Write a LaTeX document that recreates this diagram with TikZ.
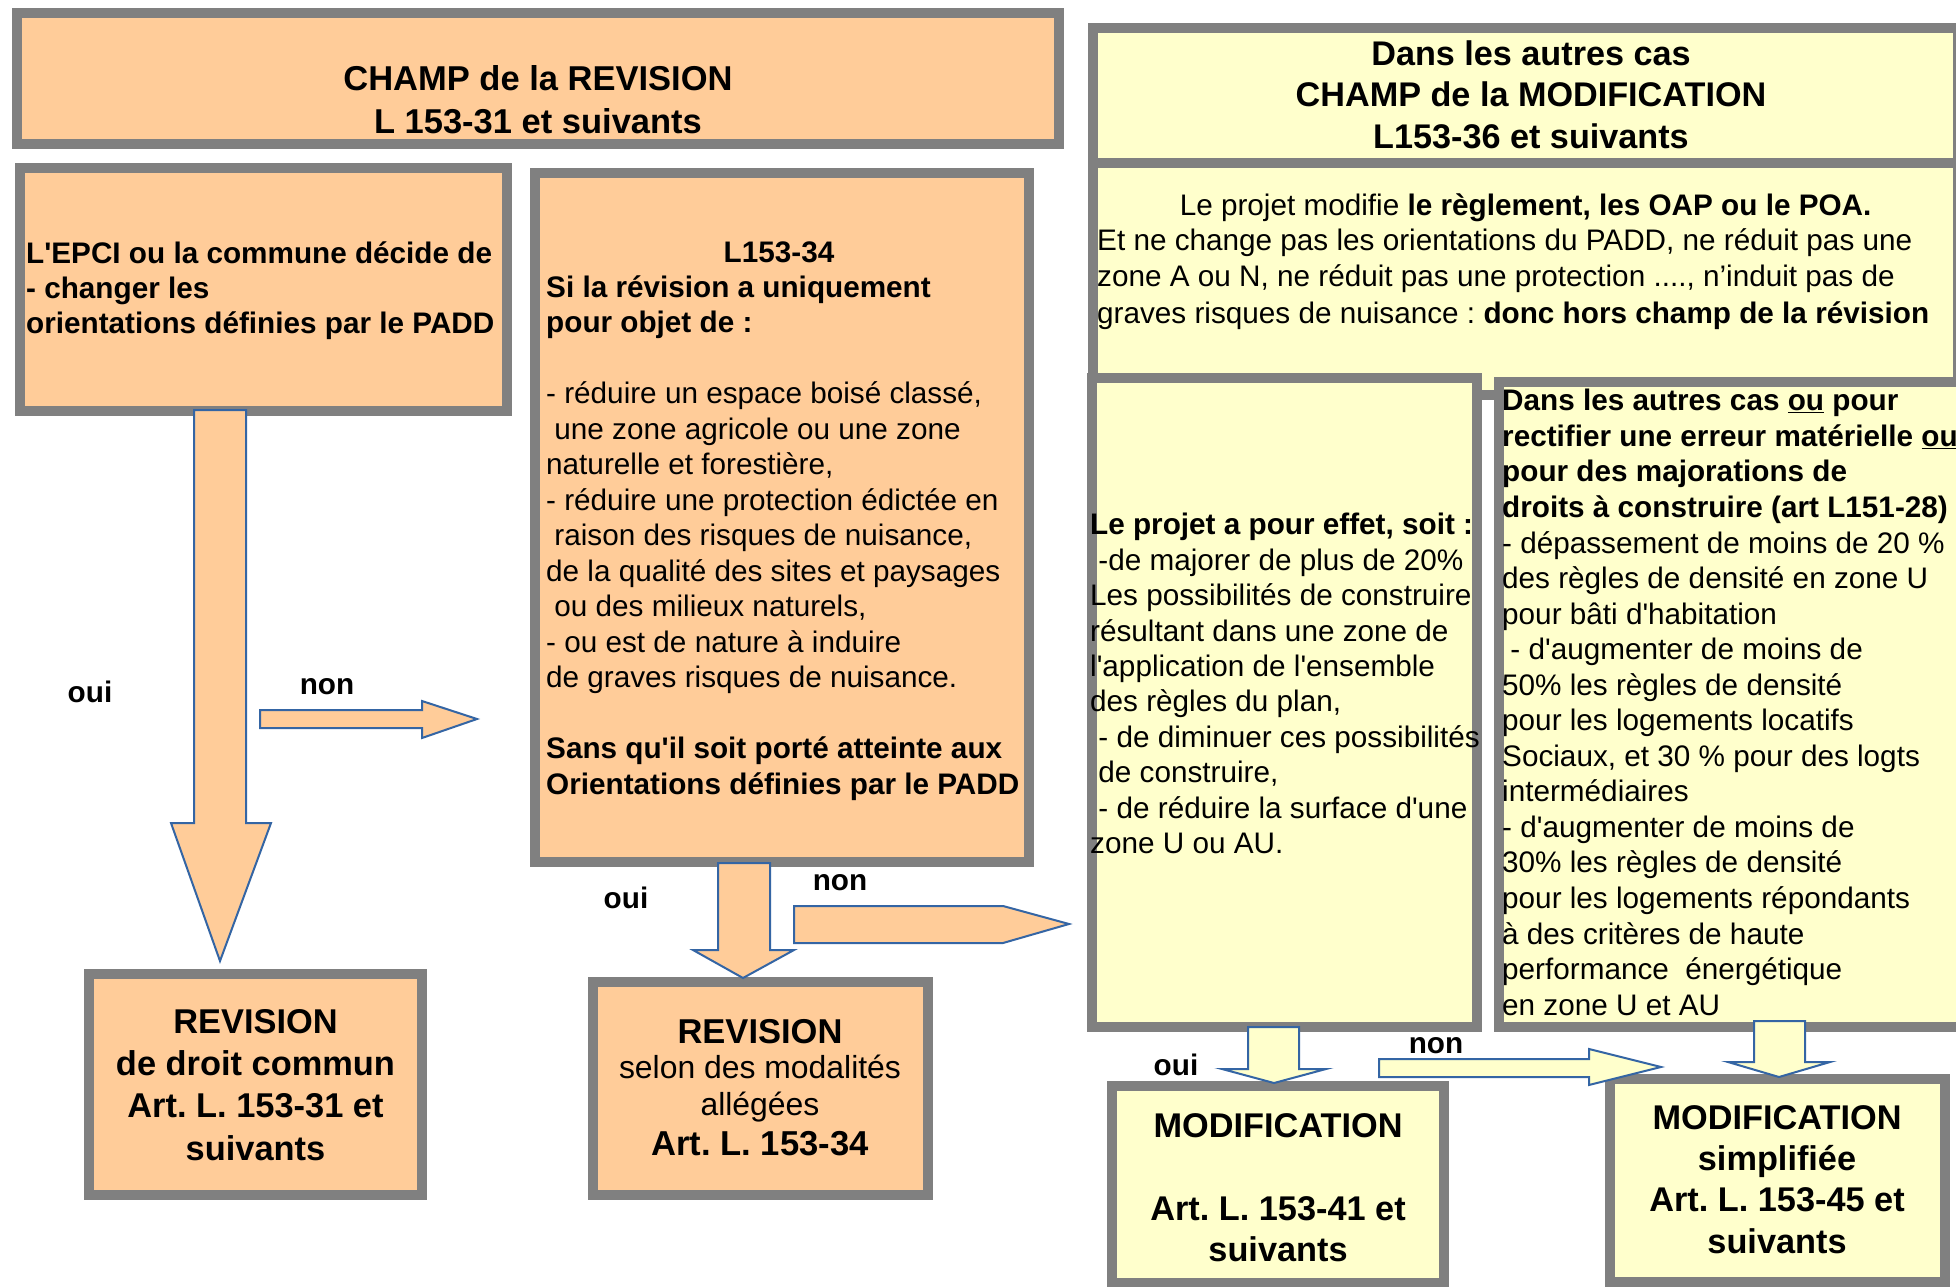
\documentclass[tikz,border=0pt]{standalone}
\usepackage{fontspec}
\newfontfamily\lib{Liberation Sans}
\usetikzlibrary{fit}
\definecolor{orfill}{HTML}{FFCC99}
\definecolor{yefill}{HTML}{FFFFCC}
\definecolor{bord}{HTML}{808080}
\definecolor{arblue}{HTML}{3465A4}
\newcommand\fs[2]{\fontsize{#1}{#2}\selectfont}
\newcommand\st{\rule{0pt}{0.95em}}
\frenchspacing
\begin{document}
\frenchspacing
\begin{tikzpicture}[x=1pt,y=-1pt,
  obox/.style={draw=bord, line width=9.5pt, fill=orfill, inner sep=0pt, outer sep=0pt},
  ybox/.style={obox, fill=yefill},
  oarrow/.style={draw=arblue, line width=2pt, fill=orfill, line join=miter},
  yarrow/.style={oarrow, fill=yefill},
  body/.style={inner sep=0pt, align=left, font=\lib\frenchspacing\fs{29.7}{35.5}},
  title/.style={inner sep=0pt, align=center, font=\lib\frenchspacing\bfseries\fs{34.4}{42.3}},
  lab/.style={inner sep=0pt, font=\lib\bfseries\fs{29.7}{35.5}}
]
\useasboundingbox (0,0) rectangle (1956,1287);
\fill[white] (0,0) rectangle (1956,1287);

% boxes
\node[obox, fit={(17,13) (1059,144)}] (A) {};
\node[obox, fit={(20,168) (507,411)}] (B) {};
\node[obox, fit={(535,173) (1029,862)}] (C) {};
\node[ybox, fit={(1093,163) (1958,395)}] (E) {};
\node[ybox, fit={(1093,28) (1958,163)}] (D) {};
\node[ybox, fit={(1092,378) (1477,1027)}] (F) {};
\node[ybox, fit={(1499,382) (1990,1027)}] (G) {};
\node[obox, fit={(89,974) (422,1195)}] (H) {};
\node[obox, fit={(593,982) (928,1195)}] (I) {};
\node[ybox, fit={(1112,1086) (1444,1283)}] (J) {};
\node[ybox, fit={(1610,1079) (1945,1282)}] (K) {};

% texts
\node[title, anchor=north, font=\lib\frenchspacing\bfseries\fs{34.5}{43}] (tA) at (538,57.2)
  {\st CHAMP de la REVISION\\L 153-31 et suivants};
\node[title, anchor=north, font=\lib\frenchspacing\bfseries\fs{34.2}{41.5}] (tD) at (1531,32.5)
  {\st Dans les autres cas\\CHAMP de la MODIFICATION\\L153-36 et suivants};
\node[body, anchor=base] (tE1) at (1525.6,215)
  {Le projet modifie \textbf{le règlement, les OAP ou le POA.}};
\node[body, anchor=north west, font=\lib\frenchspacing\fs{29.7}{36.4}] (tE2) at (1097,221.8)
  {\st Et ne change pas les orientations du PADD, ne réduit pas une\\zone A ou N, ne réduit pas une protection ...., n’induit pas de\\graves risques de nuisance : \textbf{donc hors champ de la révision}};
\node[body, anchor=north west, font=\lib\frenchspacing\bfseries\fs{29.7}{35.3}] (tB) at (26,234.8)
  {\st L'EPCI ou la commune décide de\\- changer les\\orientations définies par le PADD};
\node[lab, anchor=base] (tC1) at (779,262) {L153-34};
\node[body, anchor=north west] (tC2) at (546,268.8)
  {\st\textbf{Si la révision a uniquement}\\\textbf{pour objet de :}\\\mbox{}\\- réduire un espace boisé classé,\\\ une zone agricole ou une zone\\naturelle et forestière,\\- réduire une protection édictée en\\\ raison des risques de nuisance,\\de la qualité des sites et paysages\\\ ou des milieux naturels,\\- ou est de nature à induire\\de graves risques de nuisance.\\\mbox{}\\\textbf{Sans qu'il soit porté atteinte aux}\\\textbf{Orientations définies par le PADD}};
\node[body, anchor=north west, font=\lib\frenchspacing\fs{29.7}{35.45}] (tF) at (1090,506.3)
  {\st\textbf{Le projet a pour effet, soit :}\\\ -de majorer de plus de 20\%\\Les possibilités de construire\\résultant dans une zone de\\l'application de l'ensemble\\des règles du plan,\\\ - de diminuer ces possibilités\\\ de construire,\\\ - de réduire la surface d'une\\zone U ou AU.};
\node[body, anchor=north west, font=\lib\frenchspacing\fs{29.7}{35.55}] (tG) at (1502,382.4)
  {\st\textbf{Dans les autres cas \underline{ou} pour}\\\textbf{rectifier une erreur matérielle \underline{ou}}\\\textbf{pour des majorations de}\\\textbf{droits à construire (art L151-28)}\\- dépassement de moins de 20 \%\\des règles de densité en zone U\\pour bâti d'habitation\\\ - d'augmenter de moins de\\50\% les règles de densité\\pour les logements locatifs\\Sociaux, et 30 \% pour des logts\\intermédiaires\\- d'augmenter de moins de\\30\% les règles de densité\\pour les logements répondants\\à des critères de haute\\performance~ énergétique\\en zone U et AU};
\node[title, anchor=north] (tH) at (255.5,1000.3)
  {\st REVISION\\de droit commun\\Art. L. 153-31 et\\suivants};
\node[inner sep=0pt, anchor=base, font=\lib\bfseries\fs{34.5}{41}] (tI1) at (760,1043) {REVISION};
\node[inner sep=0pt, anchor=base, font=\lib\fs{31.9}{38}] (tI2) at (760,1078) {selon des modalités};
\node[inner sep=0pt, anchor=base, font=\lib\fs{31.9}{38}] (tI3) at (760,1115) {allégées};
\node[inner sep=0pt, anchor=base, font=\lib\frenchspacing\bfseries\fs{34.6}{41}] (tI4) at (760,1155) {Art. L. 153-34};
\node[title, anchor=north, font=\lib\frenchspacing\bfseries\fs{34.3}{41.5}] (tJ) at (1278,1104.4)
  {\st MODIFICATION\\\mbox{}\\Art. L. 153-41 et\\suivants};
\node[title, anchor=north, font=\lib\frenchspacing\bfseries\fs{34.3}{41.3}] (tK) at (1777,1096.4)
  {\st MODIFICATION\\simplifiée\\Art. L. 153-45 et\\suivants};

% block arrows
\draw[oarrow] (194,410) -- (246,410) -- (246,823) -- (271,823) -- (220,961) -- (171,823) -- (194,823) -- cycle;
\draw[oarrow] (260,710) -- (422,710) -- (422,701) -- (477,719) -- (422,738) -- (422,728) -- (260,728) -- cycle;
\draw[oarrow] (718,863) -- (770,863) -- (770,950) -- (794,950) -- (743,978) -- (693,950) -- (718,950) -- cycle;
\draw[oarrow] (794,906) -- (1003,906) -- (1069,924) -- (1003,943) -- (794,943) -- cycle;
\draw[yarrow] (1248,1027) -- (1299,1027) -- (1299,1069) -- (1326,1069) -- (1274,1083) -- (1222,1069) -- (1248,1069) -- cycle;
\draw[yarrow] (1379,1059) -- (1589,1059) -- (1589,1049) -- (1661,1067) -- (1589,1085) -- (1589,1077) -- (1379,1077) -- cycle;
\draw[yarrow] (1754,1021) -- (1805,1021) -- (1805,1062) -- (1830,1062) -- (1779,1077) -- (1728,1062) -- (1754,1062) -- cycle;

% labels
\node[lab] (oui1) at (90,692) {oui};
\node[lab] (non1) at (327,687) {non};
\node[lab] (oui2) at (626,898) {oui};
\node[lab] (non2) at (840,883) {non};
\node[lab] (oui3) at (1176,1065) {oui};
\node[lab] (non3) at (1436,1046) {non};
\end{tikzpicture}
\end{document}
